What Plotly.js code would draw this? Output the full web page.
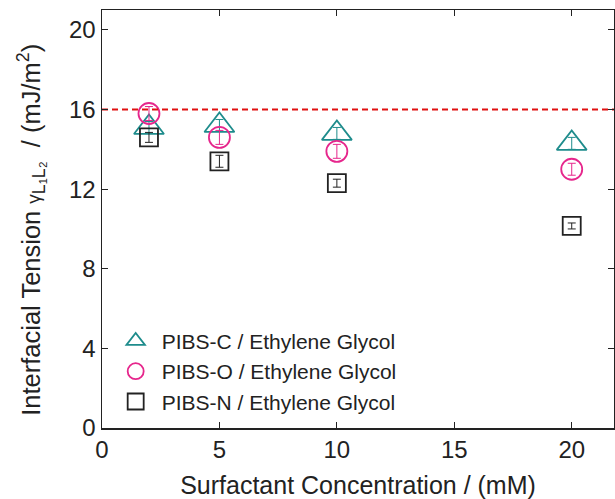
<!DOCTYPE html>
<html><head><meta charset="utf-8">
<script src="https://cdn.plot.ly/plotly-3.0.1.min.js"></script>
<style>body{margin:0;padding:0;background:#fff}#chart{width:615px;height:499px}</style>
</head><body><div id="chart"></div>
<script>
const conc = [2, 5, 10, 20];
const pibsC = [15.1, 15.2, 14.8, 14.3];
const pibsCErr = [0.3, 0.3, 0.3, 0.3];
const pibsO = [15.8, 14.6, 13.9, 13.0];
const pibsOErr = [0.35, 0.35, 0.35, 0.3];
const pibsN = [14.6, 13.4, 12.3, 10.15];
const pibsNErr = [0.25, 0.3, 0.2, 0.15];
const refLevel = 16;
const names = ["PIBS-C / Ethylene Glycol", "PIBS-O / Ethylene Glycol", "PIBS-N / Ethylene Glycol"];
const xTitle = 'Surfactant Concentration / (mM)';
const yTitle = 'Interfacial Tension <span style="font-size:19px">γ</span><sub>L₁L₂</sub>  / (mJ/m<sup>2</sup>)';
const xTicks = [0, 5, 10, 15, 20];
const yTicks = [0, 4, 8, 12, 16, 20];

function tr(y, err, name, sym, color, size) {
  return {
    x: conc, y: y, name: name, type: 'scatter', mode: 'markers',
    marker: {symbol: sym, size: size, color: color, line: {color: color, width: 1.8}},
    error_y: {type: 'data', array: err, visible: true, color: color, thickness: 1, width: 4}
  };
}
const data = [
  tr(pibsC, pibsCErr, names[0], 'triangle-up-open', '#1e8c8c', 26),
  tr(pibsO, pibsOErr, names[1], 'circle-open', '#e6268c', 21),
  tr(pibsN, pibsNErr, names[2], 'square-open', '#222222', 18),
  {x: [0, 21.8], y: [refLevel, refLevel], mode: 'lines', showlegend: false,
   line: {color: '#e01010', dash: '6px,4px', width: 1.8}, hoverinfo: 'skip'}
];
const font = {family: 'Liberation Sans, Arial, sans-serif', color: '#222', size: 24};
const layout = {
  width: 615, height: 499,
  margin: {l: 102, r: 1, t: 10, b: 71},
  paper_bgcolor: '#fff', plot_bgcolor: '#fff',
  font: font,
  showlegend: true,
  legend: {x: 0.015, y: 0.015, xanchor: 'left', yanchor: 'bottom', bgcolor: 'rgba(0,0,0,0)',
           font: {family: font.family, size: 21, color: '#222'}, tracegroupgap: 0, itemwidth: 42},
  xaxis: {
    range: [0, 21.8], tickvals: xTicks, ticks: 'inside', ticklen: 6, tickcolor: '#222',
    showline: true, linecolor: '#222', linewidth: 1.5, mirror: 'ticks', zeroline: false, showgrid: false,
    title: {text: xTitle, font: {size: 25}, standoff: 16},
    tickfont: {size: 24}
  },
  yaxis: {
    range: [0, 21], tickvals: yTicks, ticks: 'inside', ticklen: 6, tickcolor: '#222',
    showline: true, linecolor: '#222', linewidth: 1.5, mirror: 'ticks', zeroline: false, showgrid: false,
    tickfont: {size: 24}
  },
  annotations: [{
    text: yTitle, xref: 'paper', yref: 'paper', x: -0.138, y: 0.475, textangle: -90,
    xanchor: 'center', yanchor: 'middle', showarrow: false, font: {size: 25.5, color: '#222'}
  }]
};
Plotly.newPlot('chart', data, layout, {displayModeBar: false, staticPlot: true});
</script></body></html>
